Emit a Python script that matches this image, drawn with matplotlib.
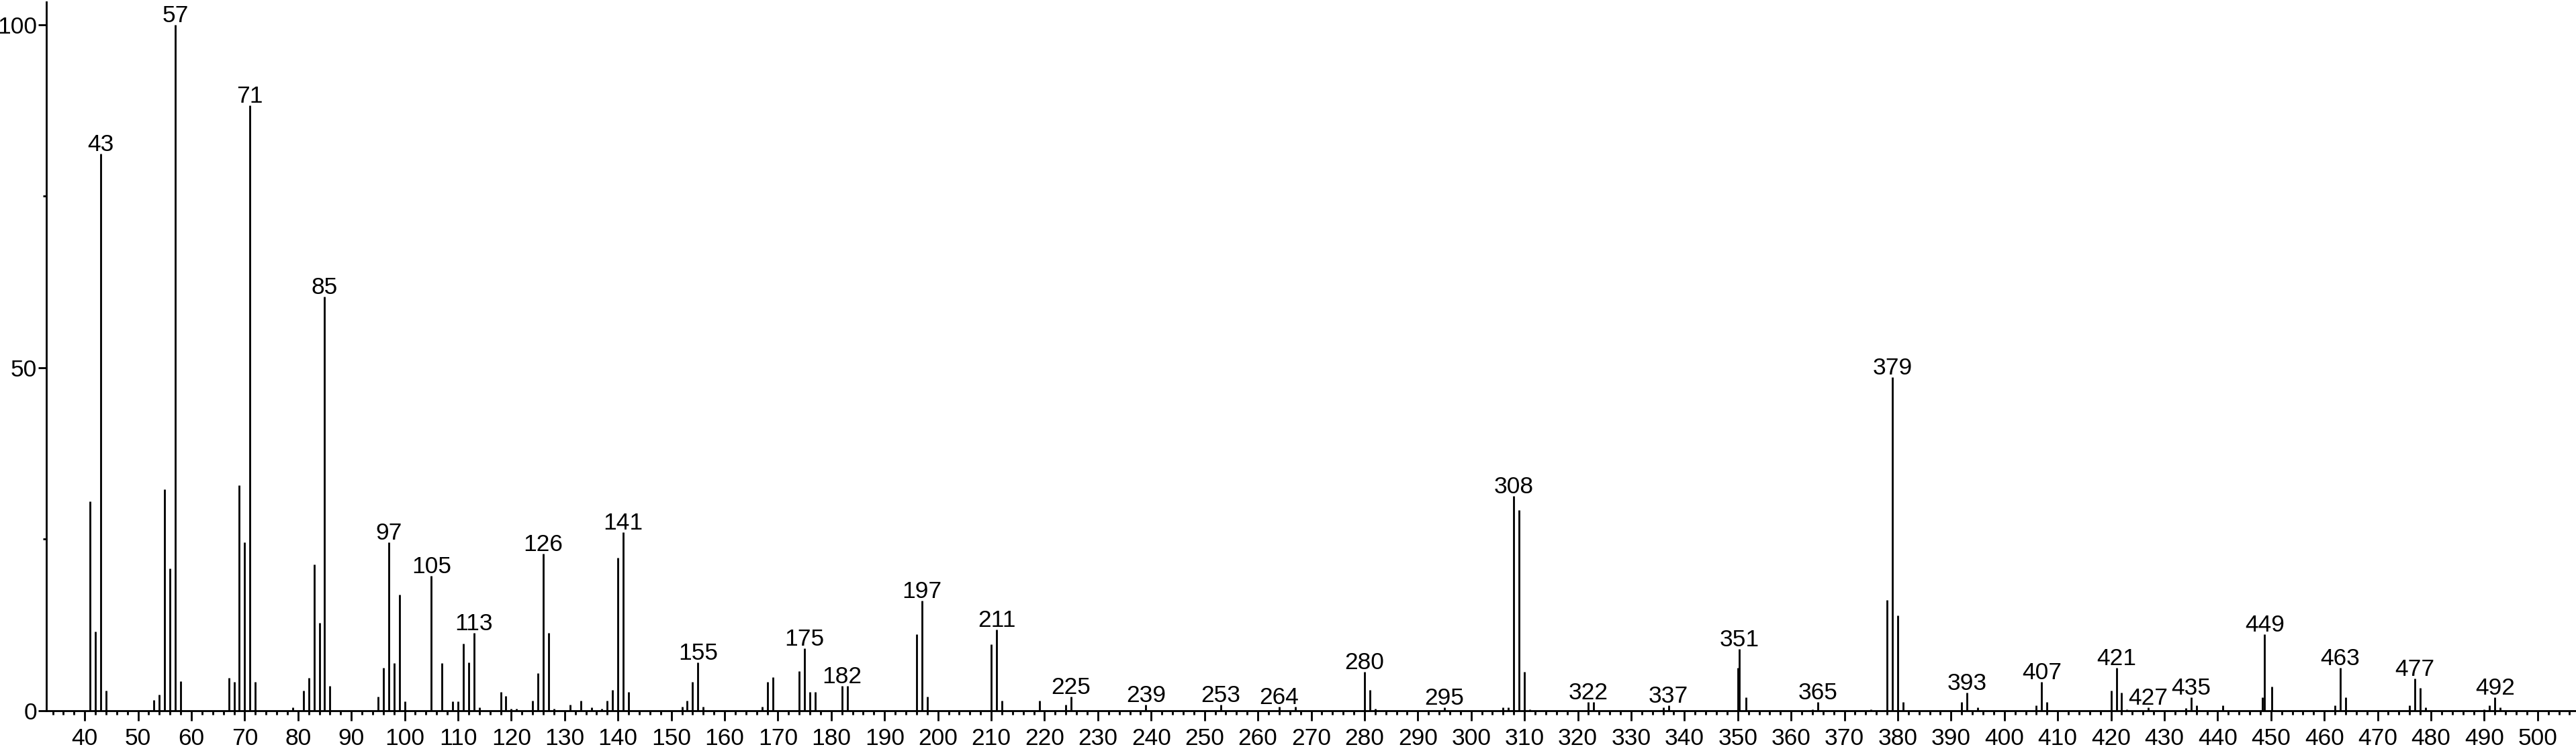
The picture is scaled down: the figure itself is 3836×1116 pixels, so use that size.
import matplotlib
matplotlib.use("Agg")
import matplotlib.pyplot as plt
from matplotlib.ticker import MultipleLocator, FixedLocator

plt.rcParams['font.family'] = ['Liberation Sans', 'DejaVu Sans']

# peak list: m/z and relative intensity (%)
mz = [41, 42, 43, 44, 53, 54, 55, 56, 57, 58,
      67, 68, 69, 70, 71, 72, 79, 81, 82, 83, 84, 85, 86,
      95, 96, 97, 98, 99, 100, 105, 107, 109, 110, 111, 112, 113, 114,
      118, 119, 120, 121, 124, 125, 126, 127, 128, 131, 133, 135, 137,
      138, 139, 140, 141, 142, 152, 153, 154, 155, 156,
      167, 168, 169, 174, 175, 176, 177, 182, 183,
      196, 197, 198, 210, 211, 212, 219, 224, 225, 239, 253, 264, 267,
      280, 281, 282, 295, 306, 307, 308, 309, 310, 311, 322, 323,
      336, 337, 350, 350.3, 351.6, 364, 365, 375, 378, 379, 380, 381,
      392, 393, 395, 406, 407, 408, 420, 421, 422, 423, 427,
      434, 435, 436, 441, 448.4, 448.8, 450.2, 462, 463, 464,
      476, 477, 478, 479, 490, 491, 492, 493]
intensity = [30.5, 11.5, 81.2, 2.9, 1.6, 2.3, 32.3, 20.7, 100.0, 4.3,
             4.8, 4.2, 32.9, 24.6, 88.2, 4.2, 0.5, 2.9, 4.8, 21.3, 12.8, 60.4, 3.6,
             2.1, 6.3, 24.6, 6.9, 16.9, 1.4, 19.7, 6.9, 1.4, 1.4, 9.8, 7.0, 11.3, 0.5,
             2.7, 2.2, 0.3, 0.3, 1.5, 5.5, 22.9, 11.3, 0.3, 0.9, 1.5, 0.5, 0.3,
             1.5, 3.0, 22.3, 26.0, 2.7, 0.55, 1.5, 4.2, 7.0, 0.55,
             0.55, 4.2, 4.9, 5.8, 9.1, 2.7, 2.7, 3.6, 3.6,
             11.2, 16.0, 2.1, 9.7, 11.8, 1.5, 1.5, 0.9, 2.1, 0.9, 0.9, 0.6, 0.6,
             5.7, 3.0, 0.3, 0.5, 0.5, 0.5, 31.3, 29.2, 5.7, 0.2, 1.3, 1.3,
             0.5, 0.8, 6.3, 9.0, 2.0, 0.2, 1.3, 0.2, 16.1, 48.6, 13.9, 1.3,
             1.3, 2.6, 0.5, 0.8, 4.2, 1.3, 2.9, 6.3, 2.6, 0.2, 0.5,
             0.4, 2.0, 0.8, 0.8, 2.0, 11.2, 3.5, 0.8, 6.3, 2.0,
             0.8, 4.7, 3.3, 0.5, 0.2, 0.8, 2.0, 0.5]

# annotated peaks: position and text
label_mz = [43, 57, 71, 85, 97, 105, 113, 126, 141, 155, 175, 182, 197, 211,
            225, 239, 253, 264, 280, 295, 308, 322, 337, 350.3, 365, 379,
            393, 407, 421, 427, 435, 448.8, 463, 477, 492]
label_text = ['43', '57', '71', '85', '97', '105', '113', '126', '141', '155',
              '175', '182', '197', '211', '225', '239', '253', '264', '280',
              '295', '308', '322', '337', '351', '365', '379', '393', '407',
              '421', '427', '435', '449', '463', '477', '492']

W, H = 3836, 1116
fig = plt.figure(figsize=(W / 100, H / 100), dpi=100)
ax = fig.add_axes([69 / W, 1 - 1059 / H, 1 - 69 / W, 1056 / H])

lw = 2.05
ax.vlines(mz, 0, intensity, colors='black', linewidth=lw)

peak = dict(zip(mz, intensity))
for x, t in zip(label_mz, label_text):
    ax.annotate(t, (x, peak[x]), xytext=(0, 4), textcoords='offset pixels',
                ha='center', va='baseline', fontsize=25.5, color='black',
                annotation_clip=False)

ax.set_xlim(32.8, 507.2)
ax.set_ylim(0, 103.3)

ax.xaxis.set_minor_locator(MultipleLocator(2))
ax.set_xticks(range(40, 501, 10))
ax.yaxis.set_major_locator(FixedLocator([0, 50, 100]))
ax.yaxis.set_minor_locator(FixedLocator([25, 75]))

ax.tick_params(axis='x', which='major', direction='out', length=10.8,
               width=lw, labelsize=25.5, pad=7)
ax.tick_params(axis='x', which='minor', direction='out', length=4.3, width=lw)
ax.tick_params(axis='y', which='major', direction='out', length=8.6,
               width=lw, labelsize=25.5, pad=1.5)
ax.tick_params(axis='y', which='minor', direction='out', length=3.6, width=lw)

for s in ['top', 'right']:
    ax.spines[s].set_visible(False)
for s in ['left', 'bottom']:
    ax.spines[s].set_linewidth(lw)

fig.savefig('out.png', dpi=100, facecolor='white')
